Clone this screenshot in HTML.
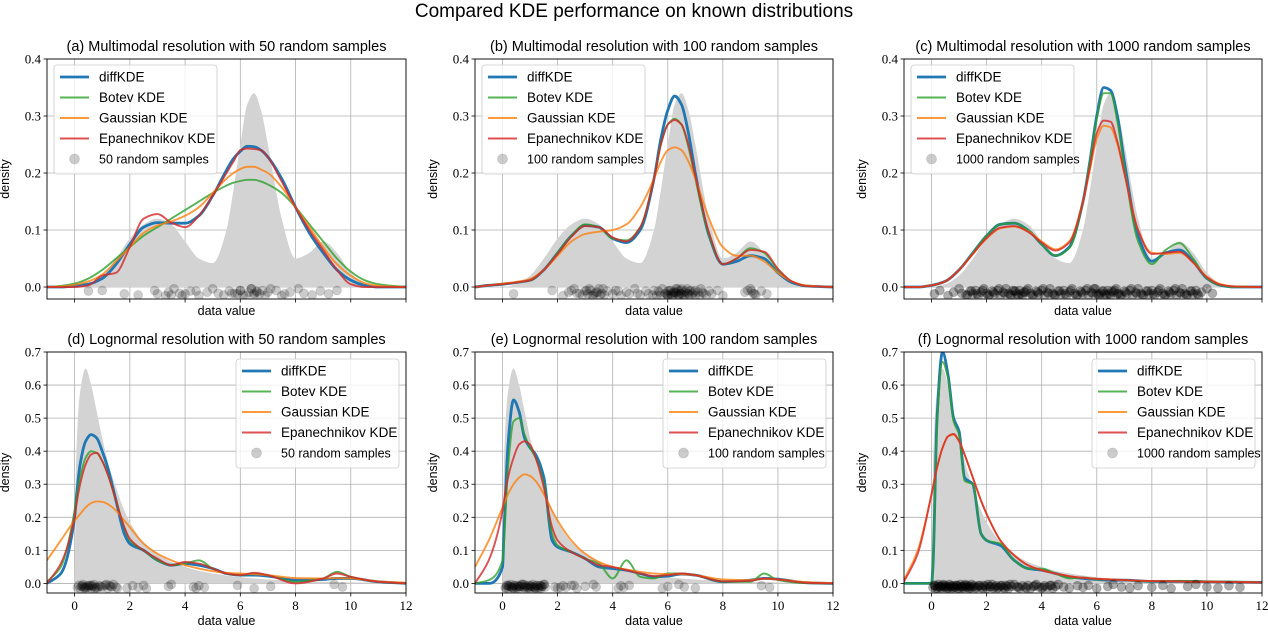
<!DOCTYPE html>
<html><head><meta charset="utf-8"><style>
body{margin:0;background:#fff;width:1268px;height:630px;overflow:hidden}
svg text{font-family:"Liberation Sans",sans-serif}
.tick{font-family:"Liberation Serif",serif;font-size:13px}
</style></head><body>
<svg id="fig" width="1268" height="630" xmlns="http://www.w3.org/2000/svg">
<text x="634" y="17" text-anchor="middle" font-size="19">Compared KDE performance on known distributions</text>
</svg>
<script>
// ---- data ----
const topGrid=[-1,-0.5,0,0.5,1,1.5,2,2.5,3,3.5,4,4.5,5,5.5,5.75,6,6.25,6.5,6.75,7,7.5,8,8.5,9,9.5,10,10.5,11,12];
const botGrid=[-1,-0.5,0,0.05,0.2,0.4,0.6,0.8,1,1.2,1.5,1.8,2,2.5,3,3.5,4,4.5,5,5.5,6,6.5,7,8,9,9.5,10,11,12];
const truthMulti=[0,0,0,0.005,0.02,0.05,0.085,0.11,0.12,0.11,0.08,0.05,0.042,0.1,0.17,0.25,0.32,0.34,0.31,0.25,0.12,0.05,0.06,0.08,0.06,0.025,0.006,0,0];
const truthLogn=[0,0,0,0.35,0.58,0.65,0.6,0.52,0.44,0.37,0.29,0.22,0.185,0.125,0.09,0.065,0.05,0.038,0.03,0.024,0.019,0.015,0.012,0.008,0.005,0.004,0.003,0.002,0.001];
const aBlue=[0,0,0.002,0.005,0.015,0.04,0.075,0.105,0.113,0.112,0.112,0.125,0.16,0.205,0.225,0.238,0.247,0.246,0.24,0.228,0.19,0.14,0.095,0.06,0.03,0.012,0.003,0,0];
const aGreen=[0,0.002,0.006,0.015,0.03,0.05,0.07,0.09,0.105,0.12,0.135,0.15,0.165,0.178,0.183,0.186,0.188,0.188,0.185,0.18,0.165,0.14,0.11,0.08,0.05,0.027,0.012,0.005,0];
const aOrange=[0,0.001,0.004,0.01,0.022,0.045,0.07,0.095,0.108,0.115,0.125,0.14,0.165,0.19,0.2,0.207,0.211,0.211,0.206,0.2,0.175,0.14,0.105,0.07,0.04,0.02,0.007,0.002,0];
const aRed=[0,0,0,0.003,0.02,0.025,0.07,0.12,0.128,0.113,0.105,0.125,0.16,0.2,0.22,0.24,0.243,0.242,0.24,0.228,0.185,0.14,0.1,0.065,0.03,0.005,0,0,0];
const bBlue=[0,0.003,0.005,0.008,0.012,0.03,0.06,0.09,0.108,0.105,0.085,0.078,0.1,0.19,0.26,0.31,0.335,0.32,0.27,0.2,0.09,0.04,0.045,0.055,0.05,0.025,0.008,0.002,0];
const bGreen=[0,0.003,0.005,0.008,0.012,0.03,0.06,0.09,0.11,0.105,0.085,0.082,0.105,0.19,0.25,0.285,0.295,0.285,0.245,0.19,0.09,0.04,0.05,0.068,0.06,0.03,0.01,0.002,0];
const bOrange=[0,0.003,0.006,0.009,0.014,0.03,0.055,0.08,0.093,0.097,0.1,0.11,0.14,0.19,0.22,0.24,0.245,0.24,0.22,0.19,0.12,0.07,0.055,0.055,0.045,0.025,0.01,0.003,0];
const bRed=[0,0.003,0.005,0.008,0.012,0.03,0.058,0.088,0.107,0.105,0.087,0.08,0.105,0.19,0.25,0.285,0.293,0.285,0.25,0.195,0.095,0.04,0.05,0.065,0.062,0.032,0.01,0.002,0];
const cBlue=[0,0,0.003,0.01,0.03,0.06,0.09,0.11,0.112,0.1,0.075,0.055,0.07,0.15,0.22,0.3,0.35,0.345,0.3,0.22,0.09,0.045,0.06,0.065,0.045,0.015,0.003,0,0];
const cGreen=[0,0,0.003,0.01,0.03,0.06,0.09,0.11,0.112,0.1,0.075,0.055,0.068,0.148,0.22,0.295,0.34,0.34,0.29,0.21,0.08,0.04,0.065,0.077,0.05,0.015,0.003,0,0];
const cOrange=[0,0,0.003,0.01,0.03,0.058,0.085,0.103,0.106,0.098,0.08,0.066,0.08,0.15,0.205,0.26,0.283,0.28,0.25,0.2,0.1,0.06,0.058,0.06,0.043,0.018,0.005,0.001,0];
const cRed=[0,0,0.003,0.01,0.03,0.058,0.086,0.104,0.107,0.097,0.078,0.064,0.078,0.15,0.21,0.27,0.292,0.29,0.255,0.2,0.1,0.058,0.06,0.062,0.043,0.017,0.004,0.001,0];
const dBlue=[0,0.03,0.2,0.25,0.36,0.43,0.45,0.44,0.4,0.35,0.25,0.15,0.12,0.1,0.07,0.055,0.06,0.055,0.045,0.03,0.025,0.025,0.022,0.01,0.012,0.015,0.015,0.005,0];
const dGreen=[0.005,0.05,0.22,0.25,0.32,0.38,0.4,0.395,0.37,0.33,0.25,0.17,0.13,0.1,0.07,0.055,0.06,0.07,0.045,0.03,0.025,0.03,0.025,0.005,0.015,0.035,0.02,0.005,0];
const dOrange=[0.07,0.13,0.19,0.195,0.21,0.23,0.243,0.248,0.247,0.24,0.22,0.19,0.17,0.12,0.09,0.07,0.055,0.045,0.037,0.032,0.03,0.028,0.025,0.016,0.015,0.016,0.015,0.006,0.002];
const dRed=[0,0.06,0.2,0.23,0.3,0.36,0.39,0.395,0.37,0.33,0.25,0.17,0.135,0.1,0.075,0.055,0.065,0.06,0.045,0.03,0.025,0.032,0.025,0,0.015,0.03,0.02,0.005,0];
const eBlue=[0,0,0.05,0.15,0.42,0.555,0.52,0.44,0.41,0.39,0.32,0.13,0.11,0.095,0.075,0.05,0.045,0.04,0.03,0.02,0.022,0.028,0.025,0.005,0.01,0.015,0.013,0.002,0];
const eGreen=[0,0.01,0.07,0.12,0.35,0.49,0.5,0.45,0.41,0.38,0.3,0.15,0.115,0.095,0.075,0.06,0.015,0.07,0.02,0.015,0.03,0.03,0.025,0.005,0.005,0.03,0.01,0.001,0];
const eOrange=[0.05,0.13,0.23,0.24,0.27,0.3,0.32,0.33,0.325,0.31,0.27,0.22,0.19,0.13,0.09,0.065,0.05,0.042,0.035,0.03,0.028,0.028,0.025,0.012,0.01,0.014,0.012,0.004,0.001];
const eRed=[0,0.07,0.22,0.25,0.32,0.38,0.42,0.43,0.42,0.38,0.29,0.17,0.13,0.095,0.075,0.055,0.05,0.04,0.03,0.022,0.025,0.03,0.025,0.006,0.008,0.015,0.012,0.002,0];
const fBlue=[0,0,0,0.05,0.5,0.7,0.63,0.5,0.46,0.32,0.3,0.15,0.13,0.115,0.07,0.045,0.04,0.03,0.02,0.015,0.012,0.01,0.01,0.006,0.006,0.006,0.005,0.004,0.003];
const fGreen=[0,0,0,0.05,0.48,0.67,0.62,0.49,0.45,0.31,0.3,0.15,0.13,0.12,0.07,0.045,0.045,0.03,0.015,0.018,0.012,0.012,0.01,0.006,0.008,0.007,0.006,0.005,0.003];
const fOrange=[0.01,0.1,0.27,0.29,0.35,0.41,0.445,0.45,0.43,0.39,0.32,0.25,0.21,0.13,0.085,0.055,0.04,0.03,0.022,0.017,0.014,0.012,0.01,0.007,0.006,0.005,0.005,0.004,0.003];
const fRed=[0.005,0.09,0.27,0.29,0.35,0.41,0.445,0.452,0.43,0.39,0.32,0.25,0.21,0.13,0.085,0.055,0.04,0.03,0.022,0.017,0.014,0.012,0.01,0.007,0.006,0.005,0.005,0.004,0.003];
const sampA=[3.0,2.9,3.3,3.4,3.6,3.8,3.5,0.5,1.8,1.0,4.5,4.8,5.0,5.2,5.4,5.6,5.9,6.0,6.2,6.3,6.4,6.5,6.5,6.6,6.7,6.8,6.9,7.0,7.1,5.8,6.1,4.2,4.0,7.3,7.5,7.8,8.1,8.3,8.6,8.9,9.2,9.5,3.9,6.6,6.4,5.7,2.3,4.4,7.6,6.0];
const sampB=[0.4,1.8,2.2,2.4,2.6,2.8,2.9,3.0,3.1,3.2,3.3,3.4,3.5,3.6,3.7,3.8,4.0,4.1,4.3,4.5,4.8,4.9,5.0,5.2,5.3,5.5,5.6,5.7,5.8,5.9,6.0,6.0,6.1,6.1,6.2,6.2,6.3,6.3,6.4,6.4,6.5,6.5,6.6,6.6,6.7,6.7,6.8,6.8,6.9,7.0,7.0,7.1,7.2,7.3,7.4,7.5,7.6,7.8,8.0,8.8,9.0,9.1,9.2,9.4,9.6,3.05,3.25,3.45,3.65,2.7,5.45,5.65,5.95,6.05,6.15,6.25,6.35,6.45,6.55,6.65,6.75,6.85,7.15,7.25,3.15,3.35,3.55,4.2,4.6,2.5,6.0,6.3,6.5,6.2,6.4,9.05,9.15,8.9,5.75,6.95];
const sampC=[0.1,0.3,0.6,0.8,1.0,1.1,1.3,1.4,1.5,1.6,1.7,1.8,1.9,2.0,2.1,2.2,2.3,2.4,2.5,2.6,2.7,2.8,2.9,3.0,3.1,3.2,3.3,3.4,3.5,3.6,3.7,3.8,3.9,4.0,4.1,4.2,4.3,4.4,4.5,4.6,4.7,4.8,4.9,5.0,5.1,5.2,5.3,5.4,5.5,5.6,5.7,5.8,5.9,6.0,6.1,6.2,6.3,6.4,6.5,6.6,6.7,6.8,6.9,7.0,7.1,7.2,7.3,7.4,7.5,7.6,7.7,7.8,7.9,8.0,8.1,8.2,8.3,8.4,8.5,8.6,8.7,8.8,8.9,9.0,9.1,9.2,9.3,9.4,9.5,9.6,9.7,9.8,10.0,10.2,1.25,1.45,1.65,1.85,2.05,2.25,2.45,2.65,2.85,3.05,3.25,3.45,3.65,3.85,4.05,4.25,4.45,4.65,4.85,5.05,5.25,5.45,5.65,5.85,6.05,6.25,6.45,6.65,6.85,7.05,7.25,7.45,7.65,7.85,8.05,8.25,8.45,8.65,8.85,9.05,9.25,9.45,9.65,2.95,3.15,3.35,5.95,6.15,6.35,6.55,6.75];
const sampD=[0.1,0.15,0.2,0.25,0.3,0.35,0.4,0.45,0.5,0.55,0.6,0.65,0.7,0.75,0.8,0.9,1.0,1.1,1.2,1.3,1.4,1.5,1.55,0.28,0.42,0.62,0.72,0.95,1.15,1.35,1.9,2.1,2.3,2.5,2.6,3.4,3.5,4.3,4.4,4.5,4.7,5.9,6.5,7.1,9.4,9.7,0.33,0.52,0.85,1.25];
const sampE=[0.1,0.15,0.2,0.25,0.3,0.35,0.4,0.45,0.5,0.55,0.6,0.65,0.7,0.75,0.8,0.85,0.9,0.95,1.0,1.05,1.1,1.15,1.2,1.25,1.3,1.35,1.4,1.45,1.5,1.55,0.12,0.22,0.32,0.42,0.52,0.62,0.72,0.82,0.92,1.02,1.12,1.22,1.32,1.42,1.52,1.9,2.0,2.2,2.3,2.5,2.7,3.0,3.3,3.4,4.2,4.3,4.4,4.6,5.8,6.0,6.4,6.6,7.0,9.4,9.7,0.18,0.38,0.58,0.78,0.98,1.18,1.38,2.1,2.6];
const sampF=[0.05,0.1,0.15,0.2,0.25,0.3,0.35,0.4,0.45,0.5,0.55,0.6,0.65,0.7,0.75,0.8,0.85,0.9,0.95,1.0,1.05,1.1,1.15,1.2,1.25,1.3,1.35,1.4,1.45,1.5,1.6,1.7,1.8,1.9,2.0,2.1,2.2,2.3,2.4,2.5,2.6,2.7,2.8,2.9,3.0,3.1,3.2,3.3,3.4,3.5,3.6,3.7,3.8,3.9,4.0,4.1,4.2,4.3,4.4,4.5,4.6,4.8,5.0,5.3,5.5,5.7,6.0,6.4,6.6,6.9,7.2,7.5,8.0,8.4,8.7,9.3,9.6,10.0,10.4,10.8,11.2,0.12,0.22,0.32,0.42,0.52,0.62,0.72,0.82,0.92,1.02,1.12,1.22,1.32,1.42,1.55,1.65,1.75,1.85,1.95,2.05,2.15,2.25,2.35,2.45,2.55,2.65,2.75,2.85,3.15,3.45,3.75,4.05,4.35];
const jitter=[-0.012,-0.006,-0.015,-0.009,-0.003,-0.011,-0.014,-0.007];
const topTicks=[0,0.1,0.2,0.3,0.4];
const botTicks=[0,0.1,0.2,0.3,0.4,0.5,0.6,0.7];
const xTicks=[0,2,4,6,8,10,12];

const NS="http://www.w3.org/2000/svg";
const fig=document.getElementById('fig');
function mk(tag,attrs,parent){const e=document.createElementNS(NS,tag);for(const k in attrs)e.setAttribute(k,attrs[k]);(parent||fig).appendChild(e);return e;}
function monoPath(xs,ys,sx,sy){
  const n=xs.length,d=[],m=[];
  for(let i=0;i<n-1;i++)d.push((ys[i+1]-ys[i])/(xs[i+1]-xs[i]));
  m[0]=d[0];m[n-1]=d[n-2];
  for(let i=1;i<n-1;i++){ if(d[i-1]*d[i]<=0)m[i]=0; else {const h0=xs[i]-xs[i-1],h1=xs[i+1]-xs[i];const w1=2*h1+h0,w2=h1+2*h0;m[i]=(w1+w2)/(w1/d[i-1]+w2/d[i]);} }
  let p="M"+sx(xs[0]).toFixed(2)+","+sy(ys[0]).toFixed(2);
  for(let i=0;i<n-1;i++){const h=xs[i+1]-xs[i];
    p+="C"+sx(xs[i]+h/3).toFixed(2)+","+sy(ys[i]+m[i]*h/3).toFixed(2)+" "+sx(xs[i+1]-h/3).toFixed(2)+","+sy(ys[i+1]-m[i+1]*h/3).toFixed(2)+" "+sx(xs[i+1]).toFixed(2)+","+sy(ys[i+1]).toFixed(2);}
  return p;
}
const panels=[
 {id:'a',L:47,R:406,T:59,B:299,ymax:0.4,ymin:-0.021,grid:topGrid,truth:truthMulti,s:[aBlue,aGreen,aOrange,aRed],samp:sampA,n:50,title:"(a) Multimodal resolution with 50 random samples",yt:topTicks,xlab:false,leg:'left'},
 {id:'b',L:475,R:833,T:59,B:299,ymax:0.4,ymin:-0.021,grid:topGrid,truth:truthMulti,s:[bBlue,bGreen,bOrange,bRed],samp:sampB,n:100,title:"(b) Multimodal resolution with 100 random samples",yt:topTicks,xlab:false,leg:'left'},
 {id:'c',L:904,R:1262,T:59,B:299,ymax:0.4,ymin:-0.021,grid:topGrid,truth:truthMulti,s:[cBlue,cGreen,cOrange,cRed],samp:sampC,n:1000,title:"(c) Multimodal resolution with 1000 random samples",yt:topTicks,xlab:false,leg:'left'},
 {id:'d',L:47,R:406,T:352,B:593,ymax:0.7,ymin:-0.029,grid:botGrid,truth:truthLogn,s:[dBlue,dGreen,dOrange,dRed],samp:sampD,n:50,title:"(d) Lognormal resolution with 50 random samples",yt:botTicks,xlab:true,leg:'right'},
 {id:'e',L:475,R:833,T:352,B:593,ymax:0.7,ymin:-0.029,grid:botGrid,truth:truthLogn,s:[eBlue,eGreen,eOrange,eRed],samp:sampE,n:100,title:"(e) Lognormal resolution with 100 random samples",yt:botTicks,xlab:true,leg:'right'},
 {id:'f',L:904,R:1262,T:352,B:593,ymax:0.7,ymin:-0.029,grid:botGrid,truth:truthLogn,s:[fBlue,fGreen,fOrange,fRed],samp:sampF,n:1000,title:"(f) Lognormal resolution with 1000 random samples",yt:botTicks,xlab:true,leg:'right'}
];
const styles=[{c:'#1f77b4',w:2.8,o:1,name:'diffKDE'},{c:'#2ca02c',w:1.9,o:0.8,name:'Botev KDE'},{c:'#ff7f0e',w:1.9,o:0.8,name:'Gaussian KDE'},{c:'#d62728',w:1.9,o:0.8,name:'Epanechnikov KDE'}];
const seriesNames=['diffkde','botev','gaussian','epanechnikov'];
panels.forEach(P=>{
  const sx=v=>P.L+(v+1)/13*(P.R-P.L);
  const sy=v=>P.B-(v-P.ymin)/(P.ymax-P.ymin)*(P.B-P.T);
  const g=mk('g',{});
  
  
  const cp=mk('clipPath',{id:'clip'+P.id},g);mk('rect',{x:P.L,y:P.T,width:P.R-P.L,height:P.B-P.T},cp);
  xTicks.forEach(t=>{const l=mk('line',{x1:sx(t),x2:sx(t),y1:P.T,y2:P.B,stroke:'#b0b0b0','stroke-width':0.8},g);
    
    mk('line',{x1:sx(t),x2:sx(t),y1:P.B,y2:P.B+3.5,stroke:'#000','stroke-width':0.8},g);
    if(P.xlab){const tx=mk('text',{x:sx(t),y:P.B+17,'text-anchor':'middle',class:'tick'},g);tx.textContent=t;
      }});
  P.yt.forEach(t=>{const l=mk('line',{x1:P.L,x2:P.R,y1:sy(t),y2:sy(t),stroke:'#b0b0b0','stroke-width':0.8},g);
    
    mk('line',{x1:P.L-3.5,x2:P.L,y1:sy(t),y2:sy(t),stroke:'#000','stroke-width':0.8},g);
    const tx=mk('text',{x:P.L-6,y:sy(t)+4.5,'text-anchor':'end',class:'tick'},g);tx.textContent=t.toFixed(1);
    });
  const cg=mk('g',{'clip-path':'url(#clip'+P.id+')'},g);
  let tp=monoPath(P.grid,P.truth,sx,sy)+"L"+sx(P.grid[P.grid.length-1])+","+sy(0)+"L"+sx(P.grid[0])+","+sy(0)+"Z";
  const tf=mk('path',{d:tp,fill:'#d3d3d3',stroke:'none'},cg);
  
  P.s.forEach((arr,i)=>{const st=styles[i];
    const pl=mk('path',{d:monoPath(P.grid,arr,sx,sy),fill:'none',stroke:st.c,'stroke-width':st.w,'stroke-opacity':st.o,'stroke-linejoin':'round'},cg);
    });
  const r=P.n>=1000?4.5:4.5, op=P.n>=1000?0.32:0.2;
  P.samp.forEach((v,i)=>{const c=mk('circle',{cx:sx(v),cy:sy(jitter[i%jitter.length]),r:r,fill:'#000','fill-opacity':op,stroke:'#000','stroke-opacity':op*0.5},cg);
    });
  mk('rect',{x:P.L,y:P.T,width:P.R-P.L,height:P.B-P.T,fill:'none',stroke:'#000','stroke-width':0.9},g);
  const tt=mk('text',{x:(P.L+P.R)/2,y:P.T-8,'text-anchor':'middle','font-size':14.5},g);tt.textContent=P.title;
  
  const xl=mk('text',{x:(P.L+P.R)/2,y:P.xlab?P.B+32:P.B+16,'text-anchor':'middle','font-size':12.5},g);xl.textContent='data value';
  
  const yc=(P.T+P.B)/2, yx=P.L-38;
  const yl=mk('text',{x:yx,y:yc,'text-anchor':'middle','font-size':12.5,transform:'rotate(-90 '+yx+' '+yc+')'},g);yl.textContent='density';
  
  const lw=163, lh=109, lx=P.leg==='left'?P.L+7:P.R-7-lw, ly=P.leg==='left'?P.T+6:P.T+7;
  const lg=mk('g',{},g);
  
  mk('rect',{x:lx,y:ly,width:lw,height:lh,rx:3,fill:'#fff','fill-opacity':0.8,stroke:'#ccc','stroke-width':0.8},lg);
  const labels=styles.map(s=>s.name).concat([P.n+' random samples']);
  labels.forEach((lab,i)=>{const yy=ly+12+i*20.5;
    if(i<4){mk('line',{x1:lx+6,x2:lx+35,y1:yy,y2:yy,stroke:styles[i].c,'stroke-width':styles[i].w,'stroke-opacity':styles[i].o},lg);}
    else{mk('circle',{cx:lx+20.5,cy:yy,r:5,fill:'#000','fill-opacity':0.2,stroke:'#000','stroke-opacity':0.1},lg);}
    const t=mk('text',{x:lx+45,y:yy+4.5,'font-size':i<4?13.5:12.5},lg);t.textContent=lab;
    });
});
</script>
</body></html>
